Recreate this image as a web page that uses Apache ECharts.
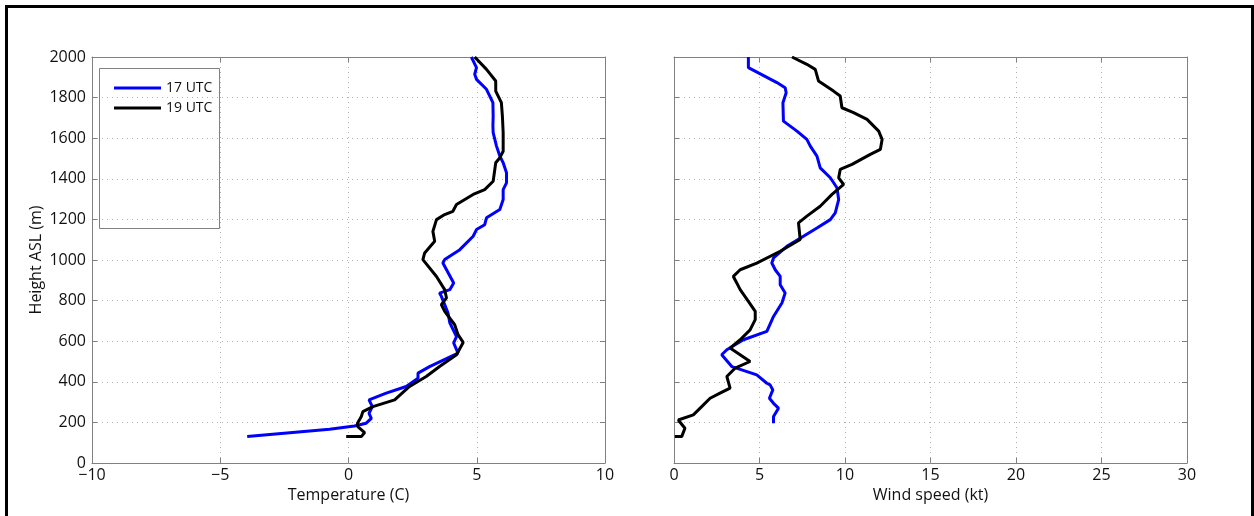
<!DOCTYPE html>
<html>
<head>
<meta charset="utf-8">
<script src="https://cdn.jsdelivr.net/npm/echarts@6/dist/echarts.min.js"></script>
<style>
  html, body { margin: 0; padding: 0; background: #fff; }
  #chart { width: 1254px; height: 516px; }
</style>
</head>
<body>
<div id="chart"></div>
<script>
// temperature profiles, [temperature (C), height (m)]
var temp17 = [[-3.95,130],[-0.74,166],[0.23,182],[0.69,196],[0.89,220],[0.80,245],[0.93,278],[0.80,311],[1.47,344],[2.25,377],[2.71,418],[2.71,443],[3.16,475],[4.27,541],[4.10,591],[4.21,623],[3.95,690],[3.88,739],[3.62,821],[3.55,837],[3.95,854],[4.10,887],[3.68,985],[3.75,1002],[4.34,1051],[4.86,1117],[4.99,1150],[5.31,1174],[5.38,1208],[5.90,1249],[6.03,1298],[6.03,1347],[6.16,1380],[6.16,1430],[6.03,1479],[5.90,1512],[5.77,1561],[5.64,1627],[5.63,1660],[5.64,1709],[5.63,1775],[5.38,1841],[4.99,1890],[4.92,1915],[4.99,1948],[4.79,2000]];
var temp19 = [[-0.09,130],[0.50,130],[0.63,150],[0.36,179],[0.35,196],[0.50,229],[0.56,253],[0.95,278],[1.80,311],[2.38,377],[3.03,426],[3.55,475],[4.21,533],[4.47,594],[4.27,632],[4.14,681],[3.75,747],[3.62,780],[3.82,813],[3.75,854],[3.43,919],[2.90,1002],[2.97,1035],[3.36,1092],[3.29,1141],[3.43,1199],[3.75,1224],[4.07,1240],[4.21,1273],[4.86,1323],[5.31,1347],[5.64,1388],[5.74,1479],[5.90,1504],[6.03,1536],[6.03,1627],[6.00,1709],[5.96,1775],[5.74,1832],[5.74,1882],[5.38,1939],[4.92,2000]];

// wind speed profiles, [speed (kt), height (m)]
var wind17 = [[5.82,196],[5.82,229],[6.11,270],[5.82,294],[5.58,319],[5.78,360],[5.62,385],[5.43,393],[4.84,434],[3.96,459],[3.38,475],[2.79,533],[3.09,558],[4.06,607],[5.43,648],[5.82,722],[6.31,788],[6.50,837],[6.21,878],[6.21,919],[5.92,952],[5.72,985],[5.82,1010],[6.60,1067],[7.57,1117],[8.36,1158],[9.14,1199],[9.43,1232],[9.63,1298],[9.53,1356],[9.14,1405],[8.55,1454],[8.36,1512],[7.97,1561],[7.77,1594],[7.19,1635],[6.40,1684],[6.37,1775],[6.56,1824],[6.50,1849],[6.02,1874],[4.35,1948],[4.35,2000]];
var wind19 = [[0.05,130],[0.45,130],[0.64,171],[0.25,212],[1.13,237],[1.62,278],[2.11,319],[2.69,344],[3.28,369],[3.09,426],[3.57,467],[4.45,500],[3.28,566],[3.87,607],[4.45,656],[4.75,706],[4.75,747],[4.35,796],[3.87,854],[3.67,887],[3.47,919],[3.87,952],[4.84,985],[6.21,1043],[7.38,1101],[7.28,1183],[7.77,1216],[8.55,1265],[9.24,1323],[9.92,1372],[9.63,1405],[9.72,1446],[10.41,1471],[11.48,1520],[12.07,1545],[12.17,1594],[11.97,1635],[11.29,1693],[10.50,1726],[9.82,1750],[9.72,1808],[9.33,1832],[8.45,1882],[8.26,1939],[7.77,1964],[6.90,2000]];

var seriesNames = ['17 UTC', '19 UTC'];
var seriesColors = ['#0000ff', '#000000'];

var fontFamily = 'Open Sans';
var axisGray = '#808080';

var mainX = function (idx, min, max, name) {
    return {
        gridIndex: idx, type: 'value', min: min, max: max, interval: 5,
        position: 'bottom',
        name: name, nameLocation: 'middle', nameGap: 24,
        nameTextStyle: { fontFamily: fontFamily, fontSize: 16, color: '#111' },
        axisLine: { onZero: false, lineStyle: { color: axisGray } },
        axisTick: { inside: true, length: 5, lineStyle: { color: axisGray } },
        axisLabel: { fontFamily: fontFamily, fontSize: 16, color: '#111', margin: 4,
            formatter: function (v) { return v < 0 ? '\u2212' + (-v) : String(v); } },
        splitLine: { show: true, lineStyle: { color: '#b0b0b0', type: [1, 4] } }
    };
};
var mirrorX = function (idx, min, max) {
    return {
        gridIndex: idx, type: 'value', min: min, max: max, interval: 5, position: 'top',
        axisLine: { onZero: false, lineStyle: { color: axisGray } },
        axisTick: { inside: true, length: 5, lineStyle: { color: axisGray } },
        axisLabel: { show: false }, splitLine: { show: false }
    };
};
var mainY = function (idx, showLabels) {
    return {
        gridIndex: idx, type: 'value', min: 0, max: 2000, interval: 200, position: 'left',
        name: showLabels ? 'Height ASL (m)' : '', nameLocation: 'middle', nameGap: 48,
        nameTextStyle: { fontFamily: fontFamily, fontSize: 16, color: '#111' },
        axisLine: { onZero: false, lineStyle: { color: axisGray } },
        axisTick: { inside: true, length: 5, lineStyle: { color: axisGray } },
        axisLabel: { show: showLabels, fontFamily: fontFamily, fontSize: 16, color: '#111', margin: 6,
            formatter: function (v) { return String(v); } },
        splitLine: { show: true, lineStyle: { color: '#b0b0b0', type: [1, 4] } }
    };
};
var mirrorY = function (idx) {
    return {
        gridIndex: idx, type: 'value', min: 0, max: 2000, interval: 200, position: 'right',
        axisLine: { onZero: false, lineStyle: { color: axisGray } },
        axisTick: { inside: true, length: 5, lineStyle: { color: axisGray } },
        axisLabel: { show: false }, splitLine: { show: false }
    };
};

var profile = function (name, color, data, axisIdx) {
    return {
        name: name, type: 'line', data: data,
        xAxisIndex: axisIdx, yAxisIndex: axisIdx,
        symbol: 'none', clip: true, animation: false,
        lineStyle: { color: color, width: 3 },
        itemStyle: { color: color }
    };
};

var options = {
    animation: false,
    grid: [
        { left: 92, top: 57, width: 513, height: 406 },
        { left: 674, top: 57, width: 513, height: 406 }
    ],
    xAxis: [
        mainX(0, -10, 10, 'Temperature (C)'),
        mainX(1, 0, 30, 'Wind speed (kt)'),
        mirrorX(0, -10, 10),
        mirrorX(1, 0, 30)
    ],
    yAxis: [
        mainY(0, true),
        mainY(1, false),
        mirrorY(0),
        mirrorY(1)
    ],
    legend: {
        data: seriesNames,
        orient: 'vertical',
        left: 109, top: 75,
        icon: 'rect', itemWidth: 47, itemHeight: 3, itemGap: 4,
        textStyle: { fontFamily: fontFamily, fontSize: 14, color: '#111', lineHeight: 16 }
    },
    graphic: [
        { type: 'rect', left: 99, top: 68, z: 0,
          shape: { width: 120, height: 160 },
          style: { fill: '#fff', stroke: axisGray, lineWidth: 1 } },
        { type: 'rect', left: 4, top: 4, z: 100, silent: true,
          shape: { width: 1246, height: 540 },
          style: { fill: 'none', stroke: '#000', lineWidth: 3 } }
    ],
    series: [
        profile(seriesNames[0], seriesColors[0], temp17, 0),
        profile(seriesNames[1], seriesColors[1], temp19, 0),
        profile(seriesNames[0], seriesColors[0], wind17, 1),
        profile(seriesNames[1], seriesColors[1], wind19, 1)
    ]
};

var chart = echarts.init(document.getElementById('chart'));
chart.setOption(options);
</script>
</body>
</html>
